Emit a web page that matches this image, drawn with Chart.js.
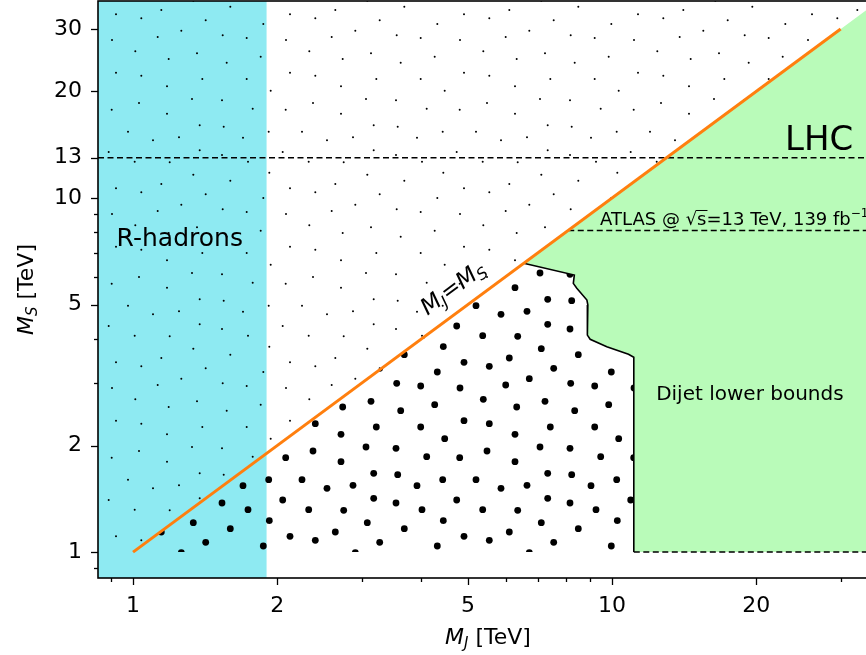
<!DOCTYPE html>
<html>
<head>
<meta charset="utf-8">
<style>
  html, body { margin: 0; padding: 0; overflow: hidden; background: #fff; }
  canvas { display: block; }
</style>
<script src="https://cdn.jsdelivr.net/npm/chart.js@4.4.0/dist/chart.umd.min.js"></script>
</head>
<body>
<canvas id="bounds" width="890" height="655"></canvas>
<script>
// axis ranges in TeV (M_J on x, M_S on y)
var xRange = [0.845, 35.9];
var yRange = [0.845, 36.0];
var xTickLabels = [1, 2, 5, 10, 20];
var xMinorTicks = [0.9, 3, 4, 6, 7, 8, 9, 30];
var yTickLabels = [1, 2, 5, 10, 13, 20, 30];
var yMinorTicks = [0.9, 3, 4, 6, 7, 8, 9];

// limits
var rHadronMax = 1.9;     // R-hadron band, M_J below this
var lhcEnergy = 13;       // sqrt(s)
var atlasLimit = 8.1;     // ATLAS dijet limit on M_S
var minMS = 1;            // lower edge of scanned region
var diagonalMJ = [1, 30]; // M_J = M_S line

// dijet lower bound curve
var dijetMJ = [6.54, 8.34, 8.30, 8.44, 8.86, 8.90, 8.88, 9.00, 9.75, 10.82, 11.1, 11.1];
var dijetMS = [6.54, 6.06, 5.74, 5.56, 5.15, 4.99, 4.10, 3.99, 3.80, 3.62, 3.55, 1.0];

// dot hatch tile (174px repeat), used as fill texture
var hatchTile = [
  [0, 14.3], [45.3, 10], [114.3, 6.7], [25.3, 18.3], [89.7, 20.3], [147.3, 24], [65.3, 30.7],
  [41.7, 37], [106.7, 35.3], [130.7, 38], [170, 40], [19.3, 51.3], [81, 53.3], [52.7, 59],
  [110.7, 62.7], [144.7, 56.7], [0, 72.7], [25.3, 75.7], [86.3, 79], [130.7, 79], [51, 86.3],
  [154.7, 90.7], [76, 99], [106, 100.3], [23, 103], [51, 113.7], [136.7, 108.7], [169.7, 109.7],
  [83.7, 125.3], [107.7, 126.7], [12, 131.7], [152.7, 131.7], [37, 140.3], [63, 137.3],
  [127, 137.7], [83.7, 150.3], [106, 155], [166.7, 152], [18.7, 161.7], [53.7, 162.3],
  [132, 161.7], [77.3, 0.7], [153.3, 172.7]
];

function hatch(radius) {
  var c = document.createElement('canvas');
  c.width = c.height = 174;
  var g = c.getContext('2d');
  g.fillStyle = '#000';
  hatchTile.forEach(function (p) {
    var px = (p[0] + 116) % 174, py = p[1];
    for (var dx = -174; dx <= 174; dx += 174) {
      for (var dy = -174; dy <= 174; dy += 174) {
        g.beginPath();
        g.arc(px + dx, py + dy, radius, 0, 2 * Math.PI);
        g.fill();
      }
    }
  });
  return g.createPattern(c, 'repeat');
}

function pts(xs, ys) {
  return xs.map(function (x, i) { return {x: x, y: ys[i]}; });
}

var cyanBand = pts([xRange[0], rHadronMax, rHadronMax, xRange[0]], [yRange[0], yRange[0], yRange[1], yRange[1]]);
var aboveDiag = pts([xRange[0], minMS, yRange[1], xRange[0]], [minMS, minMS, yRange[1], yRange[1]]);
var belowDiag = pts([minMS], [minMS]).concat(pts(dijetMJ, dijetMS));
var lhcRegion = pts([dijetMJ[0], yRange[1], yRange[1]], [dijetMS[0], yRange[1], minMS])
  .concat(pts(dijetMJ.slice().reverse(), dijetMS.slice().reverse()));

var F = "'DejaVu Sans'";

function runs(ctx, items, x, y, align) {
  var w = 0;
  items.forEach(function (r) { ctx.font = r.f; w += ctx.measureText(r.t).width; });
  var cx = align === 'center' ? x - w / 2 : x;
  var out = [];
  items.forEach(function (r) {
    ctx.font = r.f;
    ctx.fillText(r.t, cx, y + (r.dy || 0));
    var mw = ctx.measureText(r.t).width;
    out.push([cx, mw]);
    cx += mw;
  });
  return out;
}

var decorations = {
  id: 'decorations',
  afterDatasetsDraw: function (chart) {
    var ctx = chart.ctx, sx = chart.scales.x, sy = chart.scales.y;
    ctx.save();
    ctx.fillStyle = '#000';
    ctx.textAlign = 'left';
    ctx.textBaseline = 'alphabetic';

    ctx.font = '25px ' + F;
    ctx.fillText('R-hadrons', sx.getPixelForValue(0.924), sy.getPixelForValue(7.32));

    ctx.font = '34px ' + F;
    ctx.fillText('LHC', sx.getPixelForValue(22.97), sy.getPixelForValue(13.66));

    ctx.font = '20px ' + F;
    ctx.fillText('Dijet lower bounds', sx.getPixelForValue(12.36), sy.getPixelForValue(2.69));

    // ATLAS label with sqrt(s)
    var ax = sx.getPixelForValue(9.44), ay = sy.getPixelForValue(8.39);
    var f18 = '18px ' + F;
    var pos = runs(ctx, [
      {t: 'ATLAS @ ', f: f18}, {t: '\u221A', f: f18}, {t: 's', f: f18},
      {t: '=13 TeV, 139 fb', f: f18}, {t: '\u22121', f: '12px ' + F, dy: -8}
    ], ax, ay, 'left');
    ctx.lineWidth = 1;
    ctx.strokeStyle = '#000';
    ctx.beginPath();
    ctx.moveTo(pos[1][0] + pos[1][1] - 1, ay - 14.5);
    ctx.lineTo(pos[2][0] + pos[2][1] + 1, ay - 14.5);
    ctx.stroke();

    // M_J = M_S along the diagonal
    var p1 = {x: sx.getPixelForValue(1), y: sy.getPixelForValue(1)};
    var p2 = {x: sx.getPixelForValue(10), y: sy.getPixelForValue(10)};
    var ang = Math.atan2(p2.y - p1.y, p2.x - p1.x);
    ctx.translate(sx.getPixelForValue(4.96), sy.getPixelForValue(4.96));
    ctx.rotate(ang);
    var mi = 'italic 23px ' + F, si = 'italic 16px ' + F;
    runs(ctx, [
      {t: 'M', f: mi}, {t: 'J', f: si, dy: 4}, {t: '=', f: '23px ' + F},
      {t: 'M', f: mi}, {t: 'S', f: si, dy: 4}
    ], 0, -15, 'center');
    ctx.restore();
  },
  afterDraw: function (chart) {
    var ctx = chart.ctx, a = chart.chartArea, sx = chart.scales.x, sy = chart.scales.y;
    ctx.save();
    ctx.strokeStyle = '#000';
    // ticks
    ctx.lineWidth = 1.3;
    function tick(isX, v, len) {
      ctx.beginPath();
      if (isX) {
        var px = Math.round(sx.getPixelForValue(v)) + 0.5;
        ctx.moveTo(px, a.bottom); ctx.lineTo(px, a.bottom + len);
      } else {
        var py = Math.round(sy.getPixelForValue(v)) + 0.5;
        ctx.moveTo(a.left, py); ctx.lineTo(a.left - len, py);
      }
      ctx.stroke();
    }
    xTickLabels.forEach(function (v) { tick(true, v, 7); });
    xMinorTicks.forEach(function (v) { tick(true, v, 4); });
    yTickLabels.forEach(function (v) { tick(false, v, 7); });
    yMinorTicks.forEach(function (v) { tick(false, v, 4); });
    // frame
    ctx.lineWidth = 1.6;
    ctx.strokeRect(a.left, a.top, a.right - a.left, a.bottom - a.top);

    // axis titles
    ctx.fillStyle = '#000';
    ctx.textAlign = 'left';
    ctx.textBaseline = 'alphabetic';
    var mi = 'italic 22px ' + F, si = 'italic 15px ' + F, up = '22px ' + F;
    runs(ctx, [{t: 'M', f: mi}, {t: 'J', f: si, dy: 4}, {t: ' [TeV]', f: up}],
      (a.left + a.right) / 2, 644, 'center');
    ctx.translate(33, (a.top + a.bottom) / 2);
    ctx.rotate(-Math.PI / 2);
    runs(ctx, [{t: 'M', f: mi}, {t: 'S', f: si, dy: 4}, {t: ' [TeV]', f: up}], 0, 0, 'center');
    ctx.restore();
  }
};

var ctx = document.getElementById('bounds').getContext('2d');

var boundsChart = new Chart(ctx, {
  type: 'line',
  data: {
    datasets: [
      { label: 'R-hadrons', data: cyanBand, fill: 'shape', backgroundColor: '#8eeaf2', borderWidth: 0, order: 10 },
      { label: 'unexplored', data: aboveDiag, fill: 'shape', backgroundColor: hatch(1.0), borderWidth: 0, order: 9 },
      { label: 'allowed', data: belowDiag, fill: 'shape', backgroundColor: hatch(3.4), borderWidth: 0, order: 8 },
      { label: 'LHC', data: lhcRegion, fill: 'shape', backgroundColor: '#b9fbb9', borderWidth: 0, order: 7 },
      { label: 'dijet', data: pts(dijetMJ, dijetMS), borderColor: '#000', borderWidth: 1.6, fill: false, order: 6 },
      { label: '13 TeV', data: pts([xRange[0], xRange[1]], [lhcEnergy, lhcEnergy]),
        borderColor: '#000', borderWidth: 1.5, borderDash: [6, 3.5], fill: false, order: 5 },
      { label: 'ATLAS', data: pts([atlasLimit, xRange[1]], [atlasLimit, atlasLimit]),
        borderColor: '#000', borderWidth: 1.5, borderDash: [6, 3.5], fill: false, order: 5 },
      { label: 'floor', data: pts([dijetMJ[dijetMJ.length - 1], xRange[1]], [minMS, minMS]),
        borderColor: '#000', borderWidth: 1.5, borderDash: [6, 3.5], fill: false, order: 5 },
      { label: 'MJ=MS', data: pts(diagonalMJ, diagonalMJ), borderColor: '#ff7f0e', borderWidth: 3, fill: false, order: 4 }
    ]
  },
  options: {
    responsive: false,
    animation: false,
    devicePixelRatio: 1,
    events: [],
    layout: { padding: { left: 0, right: 12, top: 1, bottom: 0 } },
    elements: { point: { radius: 0, hitRadius: 0 }, line: { tension: 0 } },
    scales: {
      x: {
        type: 'logarithmic',
        min: xRange[0],
        max: xRange[1],
        afterBuildTicks: function (s) { s.ticks = xTickLabels.map(function (v) { return {value: v}; }); },
        afterFit: function (s) { s.height = 77; s.paddingLeft = 0; s.paddingRight = 0; },
        grid: { display: false, drawTicks: false },
        border: { display: false },
        ticks: {
          autoSkip: false, maxRotation: 0, padding: 15, color: '#000',
          font: { family: 'DejaVu Sans', size: 22 },
          callback: function (v) { return String(v); }
        }
      },
      y: {
        type: 'logarithmic',
        min: yRange[0],
        max: yRange[1],
        afterBuildTicks: function (s) { s.ticks = yTickLabels.map(function (v) { return {value: v}; }); },
        afterFit: function (s) { s.width = 98; s.paddingTop = 0; s.paddingBottom = 0; },
        grid: { display: false, drawTicks: false },
        border: { display: false },
        ticks: {
          autoSkip: false, padding: 16, color: '#000',
          font: { family: 'DejaVu Sans', size: 22 },
          callback: function (v) { return String(v); }
        }
      }
    },
    plugins: {
      legend: { display: false },
      tooltip: { enabled: false }
    }
  },
  plugins: [decorations]
});
</script>
</body>
</html>
